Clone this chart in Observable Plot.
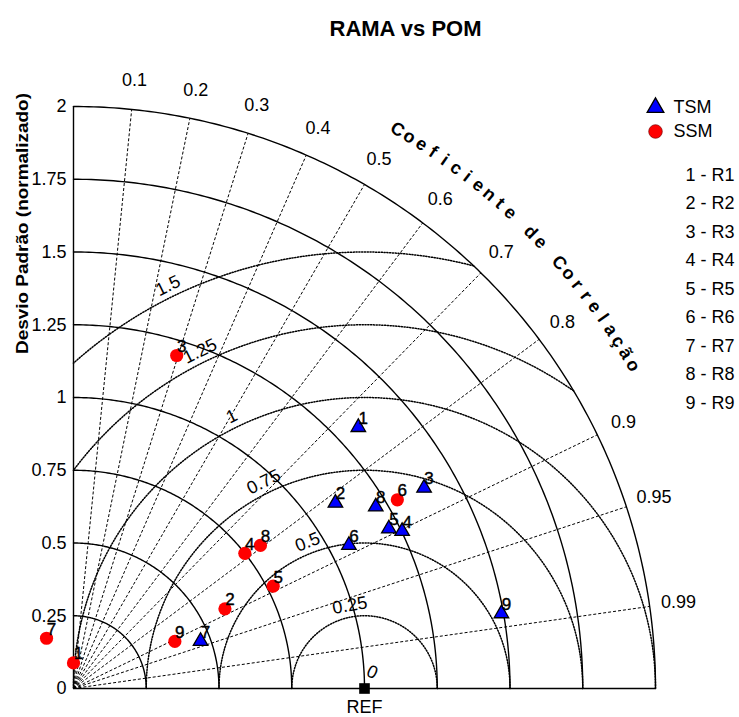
<!DOCTYPE html>
<html><head><meta charset="utf-8">
<script src="https://cdn.jsdelivr.net/npm/d3@7"></script>
<script src="https://cdn.jsdelivr.net/npm/@observablehq/plot@0.6"></script>
<style>body{margin:0;background:#fff;}</style>
</head><body><div id="chart"></div>
<script>
// ---------- data ----------
const title = "RAMA vs POM";
const yLabel = "Desvio Padrão (normalizado)";
const corrLabel = "Coeficiente de Correlação";
const refLabel = "REF";
const seriesNames = ["TSM", "SSM"];
const regions = ["R1", "R2", "R3", "R4", "R5", "R6", "R7", "R8", "R9"];
const pointIds = [1, 2, 3, 4, 5, 6, 7, 8, 9];
// normalized standard deviation and correlation of each region
const tsmStd  = [1.328, 1.103, 1.388, 1.252, 1.215, 1.067, 0.466, 1.212, 1.493];
const tsmCorr = [0.737, 0.816, 0.868, 0.902, 0.892, 0.887, 0.937, 0.857, 0.985];
const ssmStd  = [0.088, 0.588, 1.198, 0.750, 0.771, 1.288, 0.196, 0.809, 0.384];
const ssmCorr = [0.000, 0.885, 0.296, 0.785, 0.890, 0.864, -0.473, 0.794, 0.907];
const refStd = 1;
const stdTicks = [0, 0.25, 0.5, 0.75, 1, 1.25, 1.5, 1.75, 2];
const corrTicks = [0.1, 0.2, 0.3, 0.4, 0.5, 0.6, 0.7, 0.8, 0.9, 0.95, 0.99];
const rmsTicks = [0, 0.25, 0.5, 0.75, 1, 1.25, 1.5];

// ---------- derived geometry ----------
const deg = Math.PI / 180;
const maxStd = d3.max(stdTicks);
const polar = (s, c) => ({x: s * c, y: s * Math.sqrt(1 - c * c)});

const tsm = pointIds.map((id, i) => ({id, series: seriesNames[0], ...polar(tsmStd[i], tsmCorr[i])}));
const ssm = pointIds.map((id, i) => ({id, series: seriesNames[1], ...polar(ssmStd[i], ssmCorr[i])}));

const quarter = d3.range(0, 90.001, 0.5);
const stdArcs = stdTicks.filter(r => r > 0).flatMap(r =>
  quarter.map(a => ({r, x: r * Math.cos(a * deg), y: r * Math.sin(a * deg)})));

const rmsArcs = rmsTicks.filter(r => r > 0).flatMap(r => {
  const cmin = (maxStd * maxStd - refStd * refStd - r * r) / (2 * r * refStd);
  const a0 = cmin >= 1 ? 0 : Math.acos(cmin) / deg;
  const a1 = r >= refStd ? Math.acos(-refStd / r) / deg : 180;
  const as = d3.range(a0, a1, 0.25).concat([a1]);
  return as.map(a => ({r, x: refStd + r * Math.cos(a * deg), y: r * Math.sin(a * deg)}));
});

const rmsLab = rmsTicks.map(r => {
  const a = r === 0 ? 65 : Math.min(100 + 45 * (r - 0.25), 116);
  const d = r === 0 ? 0.062 : r + 0.04;
  return {r, x: refStd + d * Math.cos(a * deg), y: d * Math.sin(a * deg), rot: 90 - a};
});

const chars = Array.from(corrLabel);
const ca0 = 59.9, ca1 = 30.0, cr = 2.22;
const corrTitle = chars.map((ch, i) => {
  const a = ca0 + (ca1 - ca0) * i / (chars.length - 1);
  return {ch, x: cr * Math.cos(a * deg), y: cr * Math.sin(a * deg), rot: 90 - a};
}).filter(d => d.ch !== " ");

const corner = [{x: maxStd, y: maxStd}];
const regionText = regions.map((r, i) => `${pointIds[i]} - ${r}`).join("\n");

const font = "'Liberation Sans', Arial, Helvetica, sans-serif";

const plot = Plot.plot({
  width: 739,
  height: 717,
  marginLeft: 73,
  marginRight: 84,
  marginTop: 106,
  marginBottom: 29,
  style: {fontFamily: font, fontSize: "18px", color: "black", background: "white", overflow: "visible"},
  x: {domain: [0, maxStd], axis: null},
  y: {domain: [0, maxStd]},
  marks: [
    // std arcs
    Plot.line(stdArcs, {x: "x", y: "y", z: "r", stroke: "black", strokeWidth: 1.4}),
    // correlation rays
    Plot.link(corrTicks, {x1: 0, y1: 0, x2: c => maxStd * c, y2: c => maxStd * Math.sqrt(1 - c * c),
      stroke: "black", strokeWidth: 1, strokeDasharray: "3,2"}),
    // centered RMS arcs
    Plot.line(rmsArcs, {x: "x", y: "y", z: "r", stroke: "black", strokeWidth: 1.5, strokeDasharray: "1.2,1.6"}),
    // axes lines
    Plot.ruleX([0], {y1: 0, y2: maxStd, stroke: "black", strokeWidth: 1.4}),
    Plot.ruleY([0], {x1: 0, x2: maxStd, stroke: "black", strokeWidth: 1.4}),
    Plot.axisY({ticks: stdTicks, tickFormat: d => String(d), tickSize: 0, tickPadding: 7, fontSize: 18, label: null}),
    // RMS labels
    Plot.text(rmsLab, {x: "x", y: "y", text: d => String(d.r), rotate: "rot", fontSize: 18}),
    // correlation tick labels
    Plot.text(corrTicks, {x: c => 2.1 * c, y: c => 2.1 * Math.sqrt(1 - c * c), text: c => String(c), fontSize: 18}),
    // correlation title along arc
    Plot.text(corrTitle, {x: "x", y: "y", text: "ch", rotate: "rot", fontSize: 18, fontWeight: "bold"}),
    // REF
    Plot.dot([{x: refStd, y: 0}], {x: "x", y: "y", symbol: "square", r: 6, fill: "black"}),
    Plot.text([{x: refStd, y: 0}], {x: "x", y: "y", text: () => refLabel, dy: 19, fontSize: 18}),
    // data points
    Plot.dot(ssm, {x: "x", y: "y", symbol: "circle", r: 6.6, fill: "#ff0000"}),
    Plot.dot(tsm, {x: "x", y: "y", symbol: "triangle", r: 5.4, fill: "#0000ff", stroke: "black", strokeWidth: 1.3}),
    Plot.text(ssm, {x: "x", y: "y", text: d => String(d.id), dx: 5, dy: -9, fontSize: 17, fill: "black", stroke: "black", strokeWidth: 0.4}),
    Plot.text(tsm, {x: "x", y: "y", text: d => String(d.id), dx: 5, dy: -9, fontSize: 17, fill: "black", stroke: "black", strokeWidth: 0.4}),
    // legend
    Plot.dot(corner, {x: "x", y: "y", dy: 1, symbol: "triangle", r: 6.2, fill: "#0000ff", stroke: "black", strokeWidth: 1.3}),
    Plot.dot(corner, {x: "x", y: "y", dy: 25, symbol: "circle", r: 6.8, fill: "#ff0000", stroke: "#7a0000", strokeWidth: 0.7}),
    Plot.text(corner, {x: "x", y: "y", text: () => seriesNames[0], dx: 18, dy: 1, textAnchor: "start", fontSize: 18}),
    Plot.text(corner, {x: "x", y: "y", text: () => seriesNames[1], dx: 18, dy: 25, textAnchor: "start", fontSize: 18}),
    Plot.text(corner, {x: "x", y: "y", text: () => regionText, dx: 30, dy: 54, textAnchor: "start", lineAnchor: "top", lineHeight: 1.585, fontSize: 18}),
    // title and y label
    Plot.text([title], {frameAnchor: "top", dx: 41, dy: -86, fontSize: 22, fontWeight: "bold"}),
    Plot.text([yLabel], {frameAnchor: "left", dx: -50.5, dy: -43.5, rotate: -90, fontSize: 16, fontWeight: "bold"})
  ]
});

d3.select(plot).selectAll("text").filter(function() { return this.textContent === yLabel; })
  .attr("textLength", 261).attr("lengthAdjust", "spacingAndGlyphs");

document.getElementById("chart").appendChild(plot);
</script>
</body></html>
